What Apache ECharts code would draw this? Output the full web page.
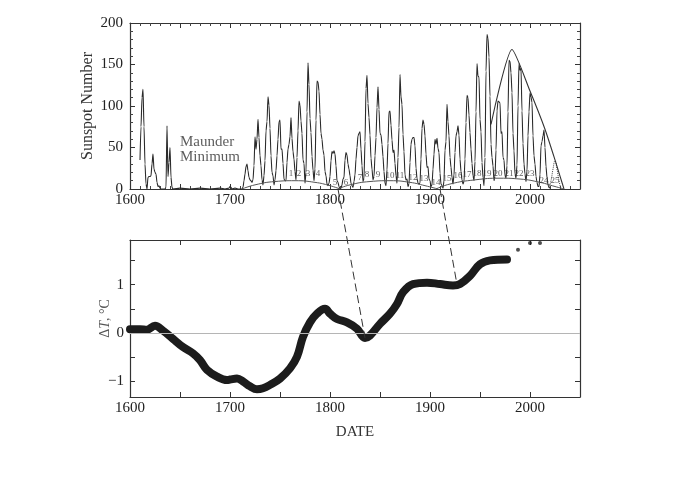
<!DOCTYPE html>
<html><head><meta charset="utf-8">
<script src="https://cdn.jsdelivr.net/npm/echarts@6/dist/echarts.min.js"></script>
<style>html,body{margin:0;padding:0;background:#fff}#c{width:687px;height:500px}</style>
</head><body><div id="c"></div><script>
// ---------- data ----------
const xTickLabels = [1600, 1700, 1800, 1900, 2000];
const spotTickLabels = [0, 50, 100, 150, 200];
const tempTickLabels = [-1, 0, 1];
const tempTicks = [-1, -0.5, 0, 0.5, 1, 1.5];

const spotYears = [1610,1611,1612,1613,1614,1615,1616,1617,1618,1619,1620,1621,1622,1623,1624,1625,1626,1627,1628,1629,1630,1631,1635,1636,1637,1638,1639,1640,1641,1642,1643,1650,1660,1670,1680,1690,1695,1699,1700,1701,1702,1705,1708,1712,
1713,1714,1715,1716,1717,1718,1719,1720,1721,1722,1723,1724,1725,1726,1727,1728,1729,1730,1731,1732,1733,1734,1735,1736,1737,1738,1739,1740,1741,1742,1743,1744,1745,1746,1747,1748,1749,1750,1751,1752,1753,1754,1755,1756,1757,1758,1759,1760,1761,1762,1763,1764,1765,1766,1767,1768,1769,1770,1771,1772,1773,1774,1775,1776,1777,1778,1779,1780,1781,1782,1783,1784,1785,1786,1787,1788,1789,1790,1791,1792,1793,1794,1795,1796,1797,1798,1799,
1800,1801,1802,1803,1804,1805,1806,1807,1808,1809,1810,1811,1812,1813,1814,1815,1816,1817,1818,1819,1820,1821,1822,1823,1824,1825,1826,1827,1828,1829,1830,1831,1832,1833,1834,1835,1836,1837,1838,1839,1840,1841,1842,1843,1844,1845,1846,1847,1848,1849,1850,1851,1852,1853,1854,1855,1856,1857,1858,1859,1860,1861,1862,1863,1864,1865,1866,1867,1868,1869,1870,1871,1872,1873,1874,1875,1876,1877,1878,1879,1880,1881,1882,1883,1884,1885,1886,1887,1888,1889,1890,1891,1892,1893,1894,1895,1896,1897,1898,1899,
1900,1901,1902,1903,1904,1905,1906,1907,1908,1909,1910,1911,1912,1913,1914,1915,1916,1917,1918,1919,1920,1921,1922,1923,1924,1925,1926,1927,1928,1929,1930,1931,1932,1933,1934,1935,1936,1937,1938,1939,1940,1941,1942,1943,1944,1945,1946,1947,1948,1949,1950,1951,1952,1953,1954,1955,1956,1957,1958,1959,1960,1961,1962,1963,1964,1965,1966,1967,1968,1969,1970,1971,1972,1973,1974,1975,1976,1977,1978,1979,1980,1981,1982,1983,1984,1985,1986,1987,1988,1989,1990,1991,1992,1993,1994,1995,1996,1997,1998,1999,
2000,2001,2002,2003,2004,2005,2006,2007,2008,2009,2010,2011,2012,2013,2014,2015,2016,2017,2018,2019,2020];
const spotValues = [35,75,110,120,75,30,6,0,14,15,15,16,30,42,24,20,18,8,3,4,1,0,0,2,76,15,32,50,14,2,0,1,0,1,0,1,0,1,3,2,0,1,0,0,
2,10,18,27,30,22,14,11,10,8,11,28,63,48,60,84,62,40,28,11,5,16,34,70,81,111,101,73,40,20,16,5,11,22,40,60,81,83,48,48,31,12,10,10,32,48,54,63,86,61,45,36,21,11,38,70,106,101,82,67,35,31,7,20,93,152,126,85,68,39,23,10,24,83,130,129,118,90,67,60,47,41,21,16,6,4,7,
15,34,45,43,46,42,28,10,8,3,0,1,5,12,14,35,44,41,30,24,16,7,4,2,9,17,36,50,64,67,69,48,28,9,13,57,121,137,103,86,65,37,24,11,15,40,62,98,123,96,67,65,54,39,21,7,4,23,55,93,94,77,59,44,47,31,16,7,38,74,138,111,102,66,45,17,11,12,3,6,32,54,60,62,62,52,25,13,7,6,7,36,73,83,78,64,42,26,27,12,
10,3,5,24,42,60,54,61,49,44,19,6,4,1,10,47,57,102,81,64,38,26,14,6,17,44,64,69,76,65,36,21,11,6,9,36,80,113,110,89,68,48,31,16,10,33,93,151,136,135,84,69,32,14,4,38,142,186,182,159,112,54,38,28,10,15,47,94,106,105,104,67,69,38,35,16,13,28,93,155,154,140,116,67,46,18,13,29,100,151,143,145,94,55,30,18,9,22,64,93,
116,111,104,64,40,30,15,8,3,3,17,52,57,64,71,50,27,14,5,2,1];

// predicted cycle 25 (dotted)
const c25Years = [2019, 2021, 2023, 2025, 2027, 2029, 2031];
const c25Values = [2, 10, 24, 34, 24, 10, 0];

// envelope triangle
const triYears = [1961, 1982, 2000, 2015, 2025, 2034];
const triValues = [78, 168, 118, 72, 35, 0];

// Gleissberg envelope arcs
const arc1Years = [1712, 1725, 1745, 1765, 1785, 1800, 1810];
const arc1Values = [0, 5, 9, 10, 8, 4, 0];
const arc2Years = [1808, 1820, 1840, 1860, 1880, 1895, 1908];
const arc2Values = [0, 5, 9, 10, 8, 4, 0];
const arc3Years = [1906, 1920, 1945, 1970, 1990, 2010, 2025, 2034];
const arc3Values = [0, 6, 11, 13, 12, 8, 3, 0];

// cycle numbers
const cycleNums = ['1','2','3','4','5','6','7','8','9','10','11','12','13','14','15','16','17','18','19','20','21','22','23','24','25'];
const cycleYears = [1761,1769,1778,1788,1805,1816,1830,1837,1848,1860,1870,1883,1894,1906,1917,1928,1937,1947,1957,1968,1979,1989,2000,2014,2025];
const cycleLabelY = [19,19,19,19,8,8,14,17,17,16,16,14,12,8,12,16,17,18,18,18,19,18,18,10,10];

const maunderPos = [1650, 47];

// temperature anomaly
const tempYears = [1600,1610,1617,1625,1633,1643,1653,1663,1670,1677,1687,1697,1700,1707,1713,1720,1727,1733,1740,1750,1760,1767,1773,1780,1787,1795,1800,1807,1817,1827,1835,1840,1850,1860,1867,1873,1883,1897,1910,1923,1930,1940,1950,1960,1977];
const tempValues = [0.08,0.08,0.07,0.15,0.05,-0.12,-0.29,-0.42,-0.56,-0.76,-0.9,-0.97,-0.96,-0.94,-1.0,-1.1,-1.16,-1.14,-1.07,-0.94,-0.73,-0.49,-0.08,0.22,0.4,0.5,0.4,0.29,0.22,0.09,-0.1,-0.05,0.19,0.4,0.6,0.84,1.01,1.04,1.01,0.98,1.01,1.18,1.42,1.5,1.52];
const recentYears = [1988, 2000, 2010];
const recentValues = [1.72, 1.86, 1.86];

// dashed connectors: [year, value] in top panel -> [year, value] in bottom panel
const connTop = [[1808, 0], [1910, 0]];
const connBottom = [[1835, -0.1], [1927, 1.0]];

// ---------- chart ----------
const zip = (a, b) => a.map((v, i) => [v, b[i]]);
const F = '"Liberation Serif","Times New Roman",serif';
const ink = '#222';
const chart = echarts.init(document.getElementById('c'));

function xAx(grid, pos, labels, minor, name) {
  return {
    type: 'value', gridIndex: grid, position: pos, min: 1600, max: 2050, interval: 50,
    axisLine: { show: true, onZero: false, lineStyle: { color: '#333', width: 1.2 } },
    axisTick: { show: true, inside: true, length: 5, lineStyle: { color: '#333' } },
    minorTick: { show: minor, splitNumber: 5, length: 3, lineStyle: { color: '#444' } },
    axisLabel: { show: labels, customValues: xTickLabels, formatter: v => String(v), color: ink, fontFamily: F, fontSize: 15, margin: 4 },
    splitLine: { show: false },
    name: name || '', nameLocation: 'middle', nameGap: 28, nameMoveOverlap: false,
    nameTextStyle: { color: '#333', fontFamily: F, fontSize: 15 }
  };
}

const option = {
  animation: false,
  backgroundColor: '#fff',
  grid: [
    { left: 130, right: 107, top: 23, height: 166 },
    { left: 130, right: 107, top: 240, height: 157 }
  ],
  xAxis: [
    xAx(0, 'bottom', true, true),
    xAx(0, 'top', false, true),
    xAx(1, 'bottom', true, false, 'DATE'),
    xAx(1, 'top', false, false)
  ],
  yAxis: [
    { type: 'value', gridIndex: 0, position: 'left', min: 0, max: 200, interval: 50,
      axisLine: { show: true, lineStyle: { color: '#333', width: 1.2 } },
      axisTick: { show: true, inside: true, length: 5, lineStyle: { color: '#333' } },
      minorTick: { show: true, splitNumber: 5, length: 3, lineStyle: { color: '#444' } },
      axisLabel: { customValues: spotTickLabels, color: ink, fontFamily: F, fontSize: 15, margin: 7 },
      splitLine: { show: false },
      name: 'Sunspot Number', nameLocation: 'middle', nameGap: 34, nameRotate: 90, nameMoveOverlap: false,
      nameTextStyle: { color: '#333', fontFamily: F, fontSize: 16 } },
    { type: 'value', gridIndex: 0, position: 'right', min: 0, max: 200, interval: 50,
      axisLine: { show: true, lineStyle: { color: '#333', width: 1.2 } },
      axisTick: { show: true, inside: true, length: 5, lineStyle: { color: '#333' } },
      minorTick: { show: true, splitNumber: 5, length: 3, lineStyle: { color: '#444' } },
      axisLabel: { show: false }, splitLine: { show: false } },
    { type: 'value', gridIndex: 1, position: 'left', min: -1.32, max: 1.92,
      axisLine: { show: true, onZero: false, lineStyle: { color: '#333', width: 1.2 } },
      axisTick: { show: true, inside: true, length: 5, customValues: tempTicks, lineStyle: { color: '#333' } },
      axisLabel: { customValues: tempTickLabels, color: ink, fontFamily: F, fontSize: 15, margin: 6,
        formatter: v => (v < 0 ? '\u2212' + Math.abs(v) : String(v)) },
      splitLine: { show: false },
      name: '{a|\u0394}{b|T}{a|, \u00b0C}', nameLocation: 'middle', nameGap: 18, nameRotate: 90, nameMoveOverlap: false,
      nameTextStyle: { rich: {
        a: { color: '#555', fontFamily: F, fontSize: 14 },
        b: { color: '#555', fontFamily: F, fontSize: 14, fontStyle: 'italic' } } } },
    { type: 'value', gridIndex: 1, position: 'right', min: -1.32, max: 1.92,
      axisLine: { show: true, onZero: false, lineStyle: { color: '#333', width: 1.2 } },
      axisTick: { show: true, inside: true, length: 5, customValues: tempTicks, lineStyle: { color: '#333' } },
      axisLabel: { show: false }, splitLine: { show: false } }
  ],
  series: [
    { type: 'line', xAxisIndex: 0, yAxisIndex: 0, data: zip(spotYears, spotValues), showSymbol: false,
      smooth: 0.25, smoothMonotone: 'x',
      lineStyle: { color: '#2b2b2b', width: 1.1 }, z: 3 },
    { type: 'line', xAxisIndex: 0, yAxisIndex: 0, data: zip(c25Years, c25Values), showSymbol: false, smooth: true,
      lineStyle: { color: '#444', width: 1, type: 'dotted' } },
    { type: 'line', xAxisIndex: 0, yAxisIndex: 0, data: zip(triYears, triValues), showSymbol: false, smooth: 0.2,
      lineStyle: { color: '#333', width: 1.1 } },
    { type: 'line', xAxisIndex: 0, yAxisIndex: 0, data: zip(arc1Years, arc1Values), showSymbol: false, smooth: true,
      lineStyle: { color: '#555', width: 1 } },
    { type: 'line', xAxisIndex: 0, yAxisIndex: 0, data: zip(arc2Years, arc2Values), showSymbol: false, smooth: true,
      lineStyle: { color: '#555', width: 1 } },
    { type: 'line', xAxisIndex: 0, yAxisIndex: 0, data: zip(arc3Years, arc3Values), showSymbol: false, smooth: true,
      lineStyle: { color: '#555', width: 1 } },
    { type: 'scatter', xAxisIndex: 0, yAxisIndex: 0, symbolSize: 0, silent: true,
      data: cycleYears.map((y, i) => [y, cycleLabelY[i], cycleNums[i]]),
      label: { show: true, position: 'inside', formatter: p => p.data[2], color: '#333', fontFamily: F, fontSize: 9 }, z: 5 },
    { type: 'scatter', xAxisIndex: 0, yAxisIndex: 0, symbolSize: 0, silent: true,
      data: [maunderPos],
      label: { show: true, position: 'right', distance: 0, formatter: 'Maunder\nMinimum', color: '#333',
        fontFamily: F, fontSize: 15, lineHeight: 15, align: 'left' } },
    { type: 'line', xAxisIndex: 2, yAxisIndex: 2, data: zip(tempYears, tempValues), showSymbol: false, smooth: 0.4,
      lineStyle: { color: '#1c1c1c', width: 8, cap: 'round', join: 'round' }, z: 4,
      markLine: { silent: true, symbol: 'none', label: { show: false },
        lineStyle: { color: '#b5b5b5', width: 1, type: 'solid' }, data: [{ yAxis: 0 }] } },
    { type: 'scatter', xAxisIndex: 2, yAxisIndex: 2, data: zip(recentYears, recentValues), symbolSize: 4,
      itemStyle: { color: '#222' } }
  ]
};
chart.setOption(option);

// dashed connectors computed through the axes' scales
const lines = connTop.map((t, i) => {
  const p1 = chart.convertToPixel({ xAxisIndex: 0, yAxisIndex: 0 }, t);
  const p2 = chart.convertToPixel({ xAxisIndex: 2, yAxisIndex: 2 }, connBottom[i]);
  return { type: 'line', shape: { x1: p1[0], y1: p1[1], x2: p2[0], y2: p2[1] },
    style: { stroke: '#333', lineWidth: 1, lineDash: [8, 4] }, silent: true, z: 10 };
});
chart.setOption({ graphic: lines });
</script></body></html>
